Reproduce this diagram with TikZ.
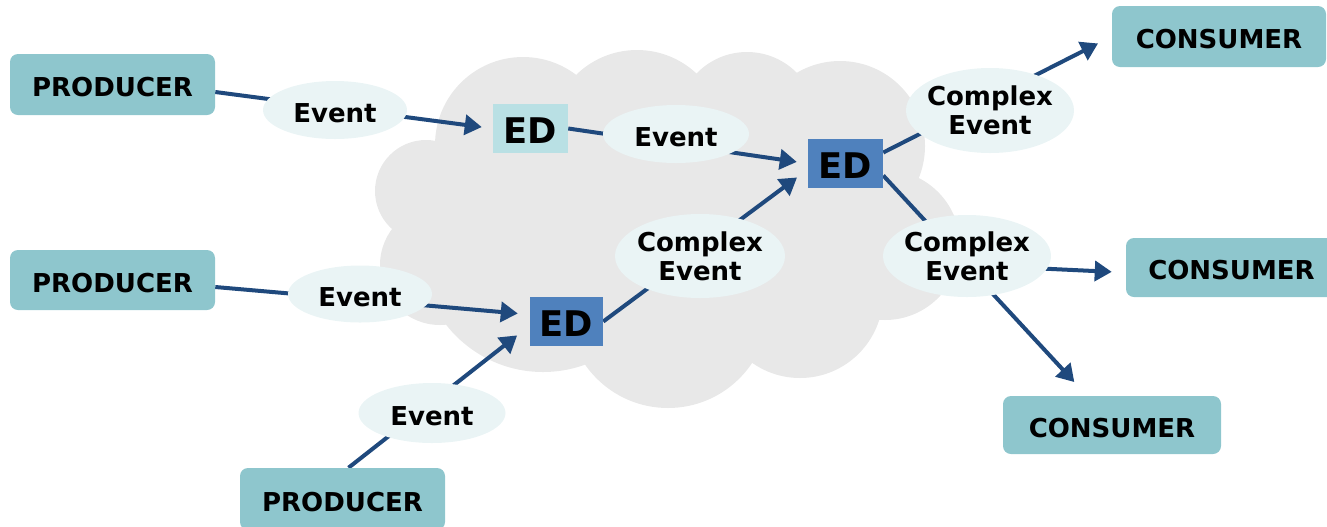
\documentclass[tikz,border=0pt]{standalone}
\usepackage{fontspec}
\setmainfont{DejaVu Sans}
\usetikzlibrary{shapes.geometric,arrows.meta,calc}

\definecolor{cloudgray}{HTML}{E8E8E8}
\definecolor{endfill}{HTML}{8EC6CD}
\definecolor{evtfill}{HTML}{EAF4F5}
\definecolor{edlight}{HTML}{B9E0E4}
\definecolor{edblue}{HTML}{4F81BD}
\definecolor{flowblue}{HTML}{1F497D}

\pgfdeclarelayer{cloudlayer}
\pgfdeclarelayer{edgelayer}
\pgfsetlayers{cloudlayer,edgelayer,main}

\begin{document}
\begin{tikzpicture}[x=0.75pt,y=-0.75pt,
  dims/.style 2 args={minimum width={#1*0.75pt}, minimum height={#2*0.75pt}},
  lbl/.style={font=\bfseries\fontsize{19.5}{21.75}\selectfont, text=black},
  capline/.style={text height=18pt, text depth=0pt},
  endpoint/.style={lbl, capline, rectangle, rounded corners=6pt, fill=endfill, inner sep=0pt},
  dispatcher/.style={rectangle, inner sep=0pt, dims={75}{49},
    text height=22.3pt, text depth=0pt,
    font=\bfseries\fontsize{26.5}{30}\selectfont, text=black},
  evt/.style={lbl, ellipse, fill=evtfill, inner sep=0pt, align=center},
  sevt/.style={evt, capline},
  cevt/.style={evt, inner xsep=-5pt},
  flow/.style={draw=flowblue, line width=3pt,
    -{Triangle[length=12.75pt,width=15pt]}}
]
\useasboundingbox (0,0) rectangle (1327,526);

% the processing cloud behind the event dispatchers
\begin{pgfonlayer}{cloudlayer}
  \fill[cloudgray]
    (523,145) circle[radius=88]
    (426,191) circle[radius=51]
    (440,265) circle[radius=60]
    (543,249) circle[radius=123]
    (668,307) circle[radius=101]
    (800,295) circle[radius=83]
    (885,245) circle[radius=75]
    (840,146) circle[radius=85]
    (747,122) circle[radius=70]
    (637,137) circle[radius=87];
  \fill[cloudgray] (523,145) -- (637,137) -- (747,122) -- (840,146)
    -- (885,245) -- (800,295) -- (668,307) -- (543,249) -- (440,265)
    -- (426,191) -- cycle;
\end{pgfonlayer}

% producers
\node[endpoint, dims={205}{61}] (p1) at (112.5,84.5) {PRODUCER};
\node[endpoint, dims={205}{60}] (p2) at (112.5,280) {PRODUCER};
\node[endpoint, dims={205}{62}] (p3) at (342.5,499) {PRODUCER};

% consumers
\node[endpoint, dims={214}{61}] (cons1) at (1219,36.5) {CONSUMER};
\node[endpoint, dims={211}{59}] (cons2) at (1231.5,267.5) {CONSUMER};
\node[endpoint, dims={218}{58}] (cons3) at (1112,425) {CONSUMER};

% event dispatchers
\node[dispatcher, fill=edlight] (ed1) at (530.5,128.5) {ED};
\node[dispatcher, fill=edblue] (ed2) at (845.5,163.5) {ED};
\node[dispatcher, fill=edblue, dims={73}{49}] (ed3) at (566.5,321.5) {ED};

% events travelling along the flows
\node[sevt, dims={144}{58}] (e1) at (335,110) {Event};
\node[sevt, dims={146}{58}] (e2) at (676,134) {Event};
\node[sevt, dims={144}{57}] (e3) at (360,294) {Event};
\node[sevt, dims={147}{60}] (e4) at (432,413) {Event};
\node[cevt, dims={168}{85}] (c1) at (990,110.5) {Complex\\Event};
\node[cevt, dims={168}{82}] (c2) at (967,256) {Complex\\Event};
\node[cevt, dims={170}{84}] (c3) at (700,256) {Complex\\Event};

% flows
\begin{pgfonlayer}{edgelayer}
  \draw[flow, shorten >=8.3pt] ($(p1.east)+(0,7.5)$) -- (ed1.west);
  \draw[flow, shorten >=8.3pt] (ed1.east) -- (ed2.west);
  \draw[flow, shorten >=9pt] ($(p2.east)+(0,7)$) -- ($(ed3.west)+(0,-7)$);
  \draw[flow, shorten >=12pt] ($(p3.north)+(6,0)$) -- ($(ed3.west)+(0,4)$);
  \draw[flow, shorten >=10pt] (ed3.east) -- ($(ed2.west)+(0,6)$);
  \draw[flow, shorten >=11.5pt] ($(ed2.east)+(0,-11)$) -- (cons1.west);
  \draw[flow, shorten >=14pt] ($(ed2.east)+(0,12)$) -- ($(cons3.north)+(-25,0)$);
  \draw[flow, shorten >=10.5pt] ($(c2.center)+(0,9)$) -- ($(cons2.west)+(0,5)$);
\end{pgfonlayer}
\end{tikzpicture}
\end{document}
